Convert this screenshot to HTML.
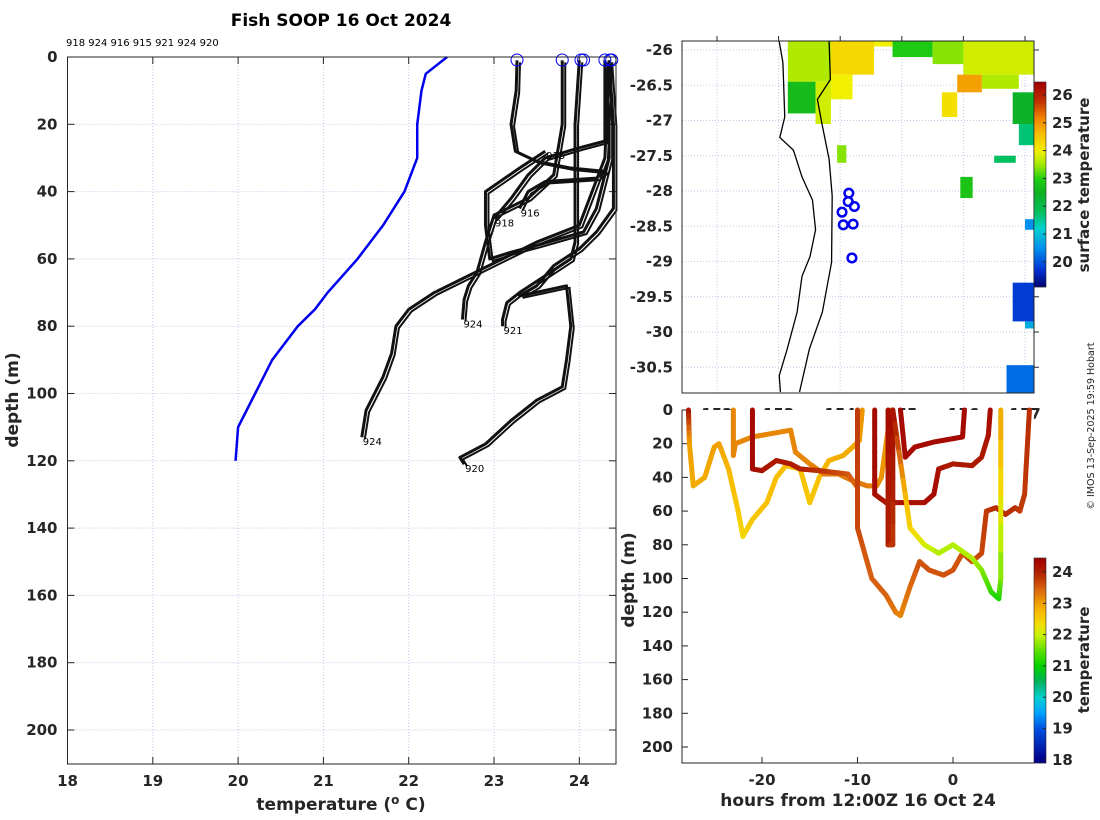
<!DOCTYPE html>
<html><head><meta charset="utf-8"><style>
html,body{margin:0;padding:0;background:#fff;}
svg{display:block;font-family:"DejaVu Sans","Liberation Sans",sans-serif;}
.tk{font-size:15px;font-weight:bold;fill:#262626;}
</style></head><body>
<svg id="s" width="1100" height="820" viewBox="0 0 1100 820">
<rect width="1100" height="820" fill="#fff"/>
</svg>
<script>
// ---- Left chart data ----
const meanTemp=[22.45,22.2,22.15,22.1,22.1,21.95,21.7,21.4,21.05,20.9,20.7,20.4,20.2,20.0,19.97];
const meanDepth=[0,5,10,20,30,40,50,60,70,75,80,90,100,110,120];
const profIds=['916','918','915','924','921','924','920'];
const profTemps=[
 [23.27,23.26,23.2,23.25,23.5,23.9,24.3,24.2,23.6,23.4,23.3],
 [24.3,24.3,24.3,24.0,23.6,23.4,23.2,23.0],
 [24.3,24.35,24.35,24.2,24.05,23.5,23.2,22.95,22.9,22.9,23.3,23.6],
 [23.8,23.8,23.7,23.4,23.0,22.9,22.8,22.7,22.65,22.63],
 [24.0,23.95,23.95,23.95,23.9,23.6,23.3,23.15,23.1,23.1],
 [24.35,24.3,24.0,23.5,23.1,22.7,22.3,22.0,21.85,21.8,21.7,21.5,21.45],
 [24.35,24.4,24.4,24.2,24.0,23.7,23.5,23.3,23.85,23.9,23.85,23.8,23.5,23.2,22.9,22.6,22.65]
];
const profDepths=[
 [1,10,20,28,31,33,34,36,37,40,45],
 [1,10,25,27,30,35,42,48],
 [1,20,30,45,52,56,58,60,50,40,33,28],
 [1,20,35,42,47,55,64,68,72,78],
 [1,20,40,55,60,65,70,73,78,80],
 [1,30,50,55,60,65,70,75,80,88,95,105,113],
 [1,20,45,52,57,62,68,71,68,80,90,98,102,108,115,119,121]
];
const surfTemps=[23.27,23.8,24.02,24.05,24.3,24.36,24.38];
const xTicksL=[18,19,20,21,22,23,24];
const yTicks=[0,20,40,60,80,100,120,140,160,180,200];
// ---- Map data ----
const lonTicks=[152,153,154,155,156,157];
const latTicks=[-26,-26.5,-27,-27.5,-28,-28.5,-29,-29.5,-30,-30.5];
const sstPatches=[
 [153.15,153.85,-25.87,-26.45,23.6],[153.15,153.6,-26.45,-26.9,22.7],[153.6,153.85,-26.45,-27.05,23.8],
 [153.85,154.55,-25.87,-26.35,24.3],[153.85,154.2,-26.35,-26.7,24.0],[154.55,154.85,-25.87,-25.95,24.0],
 [154.85,155.5,-25.87,-26.1,22.9],[155.5,156.0,-25.87,-26.2,23.4],[156.0,157.15,-25.87,-26.35,23.8],
 [155.9,156.3,-26.35,-26.6,24.9],[156.3,156.9,-26.35,-26.55,23.6],[155.65,155.9,-26.6,-26.95,24.2],
 [156.8,157.15,-26.6,-27.05,22.4],[156.9,157.15,-27.05,-27.35,21.7],[153.95,154.1,-27.35,-27.6,23.4],
 [155.95,156.15,-27.8,-28.1,22.8],[156.5,156.85,-27.5,-27.6,21.8],[157.0,157.15,-28.4,-28.55,20.5],
 [156.8,157.15,-29.3,-29.85,19.8],[156.7,157.15,-30.47,-30.87,20.2],[157.0,157.15,-29.85,-29.95,20.8]
];
const coastLon=[153.01,153.07,153.1,153.02,153.24,153.38,153.55,153.6,153.51,153.38,153.3,153.14,153.01,153.03];
const coastLat=[-25.88,-26.18,-26.95,-27.24,-27.42,-27.8,-28.13,-28.55,-28.93,-29.21,-29.72,-30.24,-30.62,-30.85];
const shelfLon=[153.82,153.84,153.63,153.7,153.82,153.87,153.86,153.71,153.5,153.34];
const shelfLat=[-25.88,-26.42,-26.7,-27.03,-27.55,-28.07,-29.01,-29.72,-30.24,-30.85];
const floatLon=[154.14,154.13,154.23,154.03,154.05,154.21,154.19];
const floatLat=[-28.03,-28.15,-28.22,-28.3,-28.48,-28.47,-28.95];
// ---- Time-depth data ----
const trackHours=[
 [-27.7,-27.6,-27.2,-26,-25,-24.5,-23.5,-22.5,-22,-21,-19.5,-18.5,-17.5,-16,-15,-14,-13,-11.5,-10.5,-9.8,-9.5],
 [-23,-23,-22.8,-21,-17,-16.5,-15,-13.5,-12,-10.5,-9,-8,-7.5,-6.5],
 [-21,-21,-20,-18.5,-17,-16,-14,-11,-10],
 [-10,-10,-9.5,-8.5,-7,-6,-5.5,-4.5,-3.5,-2.5,-1,0,1,2,3,3.5,4.5,5.5,6.5,7,7.5,8],
 [-8.2,-8.2,-7,-5,-3,-2,-1.5,0,2,3,3.7,3.9],
 [-6.8,-6.8,-6.3,-6.3,-5,-4.5,-3,-1.5,0,2,3,4,4.8,5,5],
 [-5.5,-5,-4,-2,0,1,1.2]
];
const trackDepths=[
 [0,20,45,40,22,20,35,60,75,65,55,40,33,35,55,40,30,27,22,18,0],
 [0,27,20,16,12,25,32,38,38,42,45,45,40,0],
 [0,35,36,30,32,35,36,38,46],
 [0,70,80,100,110,120,122,105,90,95,98,95,85,90,85,60,58,62,58,60,50,0],
 [0,50,55,55,55,50,35,32,33,28,15,0],
 [0,80,80,0,50,70,80,85,80,88,95,108,112,100,0],
 [0,28,22,19,17,16,0]
];
const trackTemps=[
 [24.2,23.0,22.9,22.9,23.0,23.0,22.8,22.6,22.4,22.6,22.7,22.7,22.7,22.7,22.6,22.7,22.8,22.9,22.9,23,23.1],
 [23.2,23.2,23.2,23.2,23.2,23.2,23.2,23.3,23.3,23.3,23.3,23.2,23.1,23.0],
 [24.3,24.3,24.2,24.1,24.1,24.0,23.9,23.6,23.4],
 [23.8,23.7,23.6,23.5,23.5,23.3,23.2,23.4,23.6,23.6,23.6,23.6,23.6,23.7,23.7,23.8,23.9,23.9,23.9,23.8,23.8,23.9],
 [24.3,24.3,24.1,24.2,24.2,24.3,24.2,24.1,24.1,24.1,24.2,24.3],
 [24.3,24.0,23.8,24.3,22.8,22.5,22.1,21.9,21.9,21.9,21.7,21.3,21.1,21.6,23.0],
 [24.3,24.3,24.3,24.3,24.3,24.3,24.3]
];
const hourTicks=[-20,-10,0];
const tcbTicks=[18,19,20,21,22,23,24];
const sstTicks=[20,21,22,23,24,25,26];

const NS='http://www.w3.org/2000/svg', svg=document.getElementById('s');
function mk(tag,attrs,parent){const e=document.createElementNS(NS,tag);for(const k in attrs)e.setAttribute(k,attrs[k]);(parent||svg).appendChild(e);return e;}
function tx(x,y,s,attrs){const e=mk('text',Object.assign({x:x,y:y},attrs||{}));e.textContent=s;return e;}
function hex(c){return [parseInt(c.slice(1,3),16),parseInt(c.slice(3,5),16),parseInt(c.slice(5,7),16)];}
function cmap(stops,v){if(v<=stops[0][0])return stops[0][1];for(let i=1;i<stops.length;i++){if(v<=stops[i][0]){const a=stops[i-1],b=stops[i],t=(v-a[0])/(b[0]-a[0]);const A=hex(a[1]),B=hex(b[1]);return 'rgb('+A.map((q,j)=>Math.round(q+(B[j]-q)*t)).join(',')+')';}}return stops[stops.length-1][1];}
const tStops=[[18,'#00008a'],[19,'#0050e0'],[19.5,'#00a0ff'],[20,'#00d0d0'],[20.5,'#00b060'],[21,'#00d000'],[21.5,'#60e000'],[22,'#c8f000'],[22.3,'#f0e000'],[22.7,'#f8c000'],[23,'#f0a000'],[23.5,'#d86010'],[24,'#b02000'],[24.45,'#a00000']];
const sStops=[[19.1,'#00006e'],[19.7,'#0030d0'],[20.5,'#0090f0'],[21.2,'#00d0d0'],[21.8,'#00c060'],[22.5,'#10b020'],[23,'#20d010'],[23.5,'#a0e800'],[24,'#f0f000'],[24.6,'#f8c000'],[25.2,'#f08000'],[25.8,'#c03000'],[26.47,'#a00000']];
const grid={stroke:'#c0c8e8','stroke-width':1,'stroke-dasharray':'1,2'};

// ===== Left chart =====
const L={x0:67.5,x1:616,y0:57,y1:764};
const lx=t=>L.x0+(t-18)*85.3, ly=d=>L.y0+d*3.365;
const gL=mk('g',{});
xTicksL.forEach(t=>{mk('line',Object.assign({x1:lx(t),x2:lx(t),y1:L.y0,y2:L.y1},grid),gL);
 mk('line',{x1:lx(t),x2:lx(t),y1:L.y0,y2:L.y0+7,stroke:'#262626'},gL);mk('line',{x1:lx(t),x2:lx(t),y1:L.y1,y2:L.y1-7,stroke:'#262626'},gL);
 const e=tx(lx(t),L.y1+22,String(t),{class:'tk','text-anchor':'middle'});});
yTicks.forEach(d=>{mk('line',Object.assign({x1:L.x0,x2:L.x1,y1:ly(d),y2:ly(d)},grid),gL);
 mk('line',{x1:L.x0,x2:L.x0+7,y1:ly(d),y2:ly(d),stroke:'#262626'},gL);mk('line',{x1:L.x1,x2:L.x1-7,y1:ly(d),y2:ly(d),stroke:'#262626'},gL);
 const e=tx(L.x0-10,ly(d)+5,String(d),{class:'tk','text-anchor':'end'});});
profTemps.forEach((ts,i)=>{const ds=profDepths[i];
 const p=mk('polyline',{points:ts.map((t,j)=>lx(t)+','+ly(ds[j])).join(' '),fill:'none',stroke:'#111','stroke-width':3,'stroke-linejoin':'round'},gL);
 
 const p2=mk('polyline',{points:ts.map((t,j)=>(lx(t)+3)+','+(ly(ds[j])+2)).join(' '),fill:'none',stroke:'#111','stroke-width':2},gL);
 
 const lt=tx(lx(ts[ts.length-1])+1,ly(ds[ds.length-1])+8,profIds[i],{'font-size':10,fill:'#000'});
 });
const mp=mk('polyline',{points:meanTemp.map((t,j)=>lx(t)+','+ly(meanDepth[j])).join(' '),fill:'none',stroke:'#0000ee','stroke-width':2.5},gL);

surfTemps.forEach(t=>{const c=mk('circle',{cx:lx(t),cy:L.y0+3,r:6,fill:'none',stroke:'#0000ee','stroke-width':1},gL);
 });
mk('rect',{x:L.x0,y:L.y0,width:L.x1-L.x0,height:L.y1-L.y0,fill:'none',stroke:'#262626','stroke-width':1},gL);
tx(341,26,'Fish SOOP 16 Oct 2024',{'font-size':17,'font-weight':'bold','text-anchor':'middle',fill:'#000',});
tx(66,46,'918 924 916 915 921 924 920',{'font-size':10,fill:'#000',});
const xt=tx(341,810,'',{'font-size':17,'font-weight':'bold','text-anchor':'middle',fill:'#262626',});
xt.innerHTML='temperature (<tspan dy="-6" font-size="12">o</tspan><tspan dy="6"> C)</tspan>';
tx(0,0,'depth (m)',{'font-size':17,'font-weight':'bold','text-anchor':'middle',fill:'#262626',transform:'translate(18,400) rotate(-90)',});

// ===== Map =====
const M={x0:682,x1:1034,y0:41,y1:393};
const mx=l=>717+(l-152)*61.6, my=a=>50+(-26-a)*70.5;
const gM=mk('g',{});
const cp=mk('clipPath',{id:'mc'},gM);
mk('rect',{x:M.x0,y:M.y0,width:M.x1-M.x0,height:M.y1-M.y0},cp);
lonTicks.forEach(l=>{mk('line',Object.assign({x1:mx(l),x2:mx(l),y1:M.y0,y2:M.y1},grid),gM);mk('line',{x1:mx(l),x2:mx(l),y1:M.y0,y2:M.y0-5,stroke:'#262626'},gM);});
latTicks.forEach(a=>{mk('line',Object.assign({x1:M.x0,x2:M.x1,y1:my(a),y2:my(a)},grid),gM);
 mk('line',{x1:M.x1,x2:M.x1+5,y1:my(a),y2:my(a),stroke:'#262626'},gM);
 const e=tx(M.x0-9,my(a)+5,String(a),{class:'tk','text-anchor':'end'});});
const gP=mk('g',{'clip-path':'url(#mc)'},gM);
sstPatches.forEach(p=>{const r=mk('rect',{x:mx(p[0]),y:my(p[2]),width:mx(p[1])-mx(p[0]),height:my(p[3])-my(p[2]),fill:cmap(sStops,p[4])},gP);
 });
const cl=mk('polyline',{points:coastLon.map((l,i)=>mx(l)+','+my(coastLat[i])).join(' '),fill:'none',stroke:'#000','stroke-width':1.3},gP);

const sh=mk('polyline',{points:shelfLon.map((l,i)=>mx(l)+','+my(shelfLat[i])).join(' '),fill:'none',stroke:'#000','stroke-width':1.3},gP);

floatLon.forEach((l,i)=>{const c=mk('circle',{cx:mx(l),cy:my(floatLat[i]),r:4.3,fill:'none',stroke:'#0000ee','stroke-width':2.5},gM);
 });
mk('rect',{x:M.x0,y:M.y0,width:M.x1-M.x0,height:M.y1-M.y0,fill:'none',stroke:'#262626'},gM);
lonTicks.forEach(l=>{const e=tx(mx(l),419,String(l),{class:'tk','text-anchor':'middle'});});
// SST colorbar
const gS=mk('g',{});
const sy=v=>95+(26-v)*27.8;
for(let y=82;y<287;y++){mk('rect',{x:1034,y:y,width:12,height:1.2,fill:cmap(sStops,26-(y-95)/27.8)},gS);}
mk('rect',{x:1034,y:82,width:12,height:205,fill:'none',stroke:'#262626','stroke-width':0.6},gS);
sstTicks.forEach(v=>{mk('line',{x1:1046,x2:1043,y1:sy(v),y2:sy(v),stroke:'#262626'},gS);tx(1052,sy(v)+5,String(v),{class:'tk'});});
tx(0,0,'surface temperature',{'font-size':15,'font-weight':'bold','text-anchor':'middle',fill:'#262626',transform:'translate(1089,185) rotate(-90)',});

// ===== Time-depth =====
const T={x0:682,x1:1034,y0:410,y1:763};
const hx=h=>953+h*9.55, hy=d=>T.y0+d*1.685;
const gT=mk('g',{});
mk('rect',{x:T.x0,y:T.y0,width:T.x1-T.x0,height:T.y1-T.y0,fill:'#fff'},gT);
yTicks.forEach(d=>{mk('line',{x1:T.x0,x2:T.x0+6,y1:hy(d),y2:hy(d),stroke:'#262626'},gT);
 const e=tx(T.x0-9,hy(d)+5,String(d),{class:'tk','text-anchor':'end'});});
hourTicks.forEach(h=>{mk('line',{x1:hx(h),x2:hx(h),y1:T.y1,y2:T.y1-6,stroke:'#262626'},gT);
 const e=tx(hx(h),T.y1+22,String(h),{class:'tk','text-anchor':'middle'});});
trackHours.forEach((hs,i)=>{const ds=trackDepths[i],ts=trackTemps[i];
 const g=mk('g',{},gT);
 for(let j=1;j<hs.length;j++){const n=6;for(let k=0;k<n;k++){const a=k/n,b=(k+1)/n;
  mk('line',{x1:hx(hs[j-1]+(hs[j]-hs[j-1])*a),y1:hy(ds[j-1]+(ds[j]-ds[j-1])*a),x2:hx(hs[j-1]+(hs[j]-hs[j-1])*b),y2:hy(ds[j-1]+(ds[j]-ds[j-1])*b),
  stroke:cmap(tStops,ts[j-1]+(ts[j]-ts[j-1])*(a+b)/2),'stroke-width':5,'stroke-linecap':'round'},g);}}});
mk('path',{d:`M${T.x0},${T.y0}V${T.y1}H${T.x1}`,fill:'none',stroke:'#262626'},gT);
tx(858,806,'hours from 12:00Z 16 Oct 24',{'font-size':17,'font-weight':'bold','text-anchor':'middle',fill:'#262626',});
tx(0,0,'depth (m)',{'font-size':17,'font-weight':'bold','text-anchor':'middle',fill:'#262626',transform:'translate(634,580) rotate(-90)',});
const gC=mk('g',{});
const cy=v=>572+(24-v)*31.3;
for(let y=558;y<763;y++){mk('rect',{x:1034,y:y,width:12,height:1.2,fill:cmap(tStops,24-(y-572)/31.3)},gC);}
mk('rect',{x:1034,y:558,width:12,height:205,fill:'none',stroke:'#262626','stroke-width':0.6},gC);
tcbTicks.forEach(v=>{mk('line',{x1:1046,x2:1043,y1:cy(v),y2:cy(v),stroke:'#262626'},gC);tx(1052,cy(v)+5,String(v),{class:'tk'});});
tx(0,0,'temperature',{'font-size':15,'font-weight':'bold','text-anchor':'middle',fill:'#262626',transform:'translate(1089,660) rotate(-90)',});
tx(0,0,'© IMOS 13-Sep-2025 19:59 Hobart',{'font-size':9.5,'text-anchor':'middle',fill:'#262626',transform:'translate(1094,426) rotate(-90)',});
</script>
</body></html>
